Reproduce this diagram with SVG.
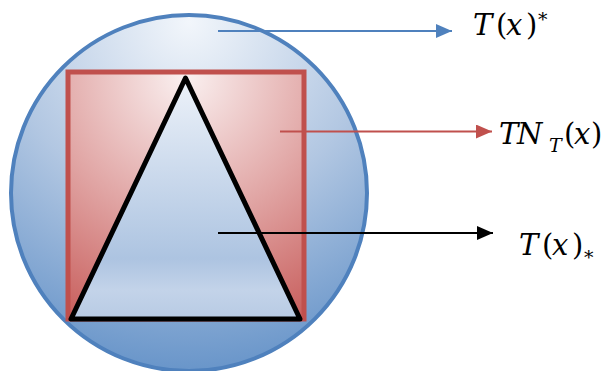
<svg xmlns="http://www.w3.org/2000/svg" width="603" height="371" viewBox="0 0 603 371">
<style>
.lbl{font-family:"DejaVu Serif","Liberation Serif",serif;font-size:29px;fill:#000}
.it{font-style:italic}
.sub{font-size:19px}
.conn line{stroke-width:2}
</style>
<defs>
<radialGradient id="gc" cx="0.5" cy="0" r="1.05" fx="0.5" fy="0.02">
<stop offset="0" stop-color="#F2F6FB"/>
<stop offset="0.5" stop-color="#B2C7E2"/>
<stop offset="1" stop-color="#6190C7"/>
</radialGradient>
<radialGradient id="gr" cx="0.5" cy="0" r="1.15" fx="0.5" fy="0.02">
<stop offset="0" stop-color="#FAF0F0"/>
<stop offset="0.5" stop-color="#E1A6A5"/>
<stop offset="1" stop-color="#C65957"/>
</radialGradient>
<linearGradient id="gt" x1="0" y1="0" x2="0" y2="1">
<stop offset="0" stop-color="#EDF2F9"/>
<stop offset="0.75" stop-color="#ADC4E1"/>
<stop offset="0.88" stop-color="#C3D3E9"/>
<stop offset="1" stop-color="#B8CBE4"/>
</linearGradient>
<marker id="ab" markerWidth="16" markerHeight="14" refX="16" refY="7" orient="auto" markerUnits="userSpaceOnUse"><path d="M0,0 L16,7 L0,14 Z" fill="#4F81BD"/></marker>
<marker id="ar" markerWidth="16" markerHeight="14" refX="16" refY="7" orient="auto" markerUnits="userSpaceOnUse"><path d="M0,0 L16,7 L0,14 Z" fill="#C0504D"/></marker>
<marker id="ak" markerWidth="16" markerHeight="14" refX="16" refY="7" orient="auto" markerUnits="userSpaceOnUse"><path d="M0,0 L16,7 L0,14 Z" fill="#000"/></marker>
</defs>
<rect width="603" height="371" fill="#fff"/>
<g id="circle">
<circle cx="189" cy="193" r="178" fill="url(#gc)" stroke="#4F81BD" stroke-width="4"/>
</g>
<g id="square">
<rect x="68" y="72" width="236" height="247" fill="url(#gr)" stroke="#C0504D" stroke-width="5"/>
</g>
<g id="triangle">
<polygon points="185.5,78 71,319 300,319" fill="url(#gt)" stroke="#000" stroke-width="5" stroke-linejoin="round"/>
</g>
<g class="conn" id="connectors">
<line x1="218" y1="31" x2="452" y2="31" stroke="#4F81BD" marker-end="url(#ab)"/>
<line x1="280" y1="131.5" x2="492" y2="131.5" stroke="#C0504D" marker-end="url(#ar)"/>
<line x1="218" y1="233" x2="493" y2="233" stroke="#000" marker-end="url(#ak)"/>
</g>
<g id="label-upper">
<text class="lbl" y="35"><tspan class="it" x="473">T</tspan><tspan x="496">(</tspan><tspan class="it" x="506">x</tspan><tspan x="526">)</tspan><tspan class="sub" x="538" y="26">*</tspan></text>
</g>
<g id="label-tn">
<text class="lbl" y="144"><tspan class="it" x="499">T</tspan><tspan class="it" x="517">N</tspan><tspan class="it sub" x="549" y="152">T</tspan><tspan x="564" y="144">(</tspan><tspan class="it" x="574">x</tspan><tspan x="591">)</tspan></text>
</g>
<g id="label-lower">
<text class="lbl" y="255"><tspan class="it" x="519">T</tspan><tspan x="542">(</tspan><tspan class="it" x="552">x</tspan><tspan x="572">)</tspan><tspan class="sub" x="584" y="264">*</tspan></text>
</g>
</svg>
